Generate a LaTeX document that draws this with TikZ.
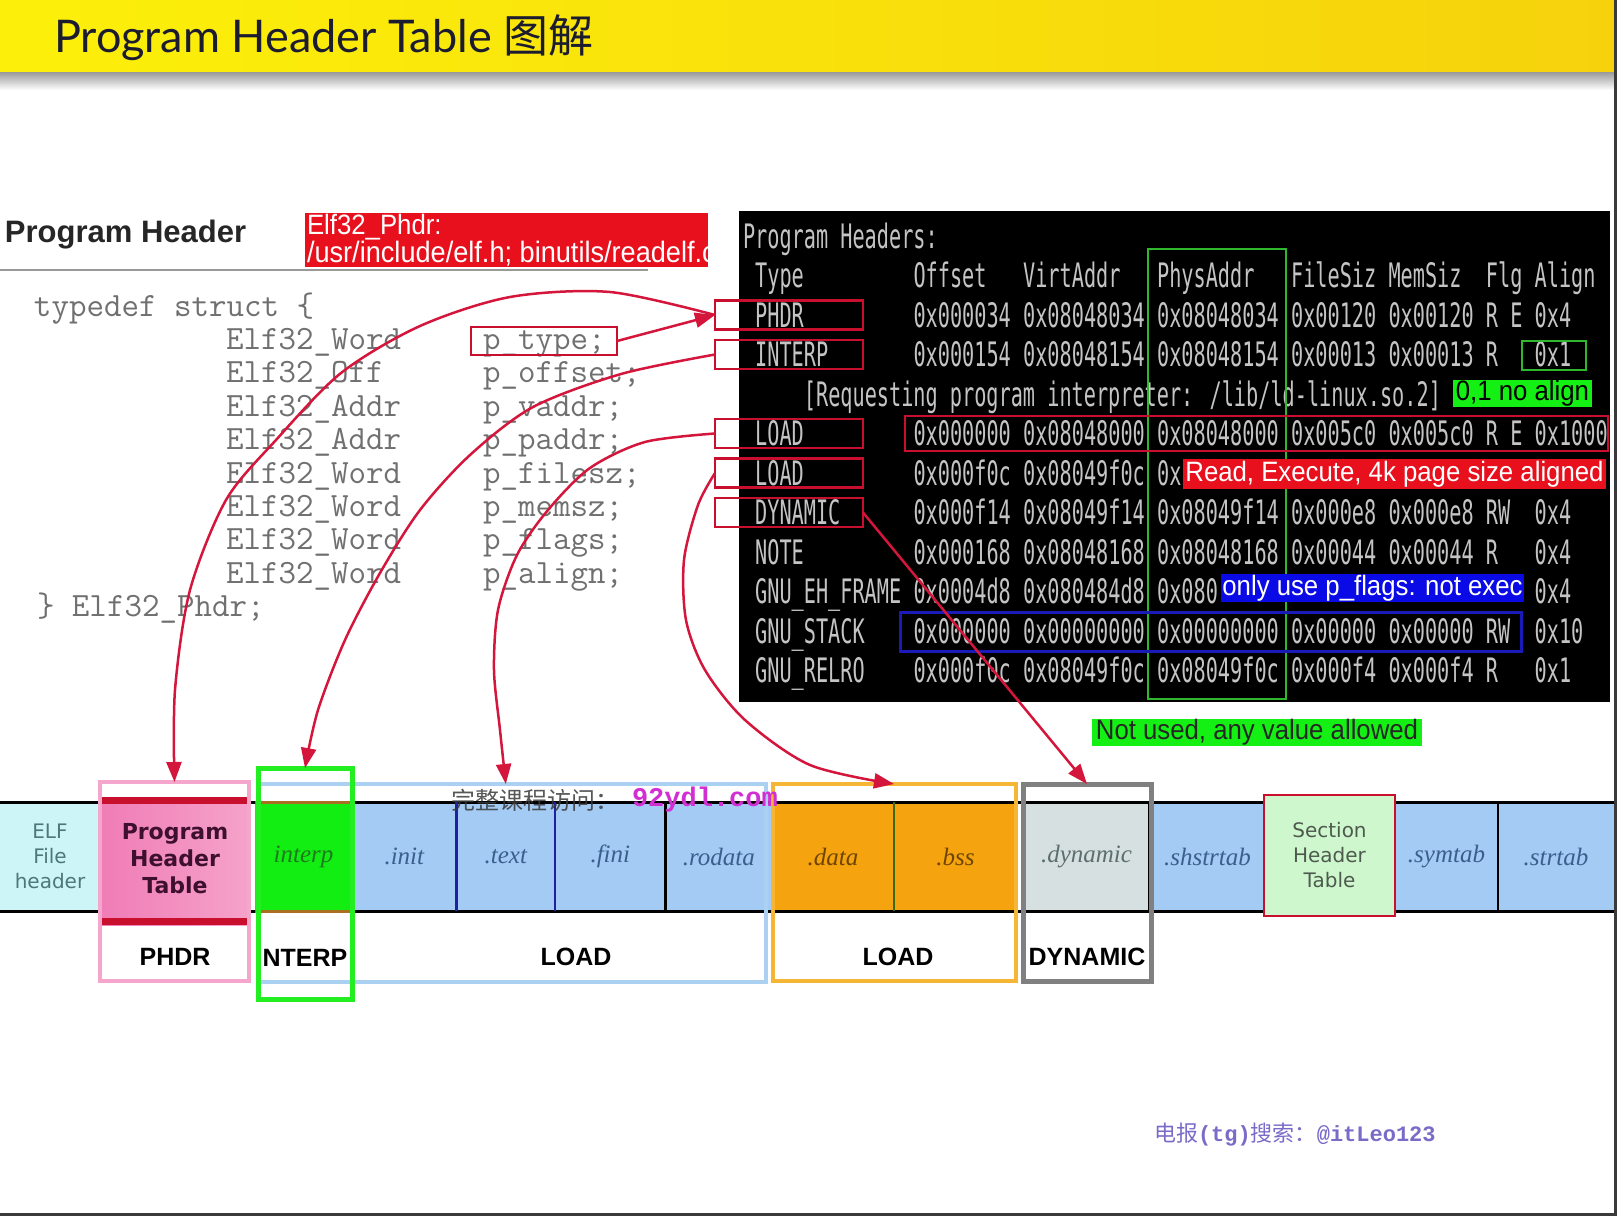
\documentclass[tikz,border=0pt]{standalone}
\usepackage{fontspec}
\setmainfont{Liberation Sans}
\newfontfamily\titlefont{Lato}
\newfontfamily\cjkfont{Noto Sans CJK SC}
\newfontfamily\wmmono{Liberation Mono}
\newfontfamily\termfont[FakeStretch=0.6]{DejaVu Sans Mono}
\newfontfamily\narrowfont[FakeStretch=0.92]{Liberation Sans}
\newfontfamily\cellsans{DejaVu Sans}
\newfontfamily\cellserif{Liberation Serif}
\usetikzlibrary{arrows.meta,calc}

\definecolor{barL}{HTML}{FCF00A}
\definecolor{barR}{HTML}{F6D20C}
\definecolor{titleink}{HTML}{1C1C30}
\definecolor{boxred}{HTML}{C8102E}
\definecolor{arrowred}{HTML}{D5163C}
\definecolor{labelred}{HTML}{E8101C}
\definecolor{labelblue}{HTML}{0A0AE6}
\definecolor{labelgreen}{HTML}{14F014}
\definecolor{stackblue}{HTML}{1A1AB8}
\definecolor{physgreen}{HTML}{2EB82E}
\definecolor{termink}{HTML}{C4C4C4}
\definecolor{codeink}{HTML}{707070}
\definecolor{elfcyan}{HTML}{CDF5F7}
\definecolor{pinkL}{HTML}{F07CB6}
\definecolor{pinkR}{HTML}{F5A3CA}
\definecolor{pinkline}{HTML}{F4A6CC}
\definecolor{phtink}{HTML}{3E0F2E}
\definecolor{interpgreen}{HTML}{12EE12}
\definecolor{interpink}{HTML}{1E7A1E}
\definecolor{interpedge}{HTML}{22EE22}
\definecolor{interpline}{HTML}{A87020}
\definecolor{secblue}{HTML}{A3CBF3}
\definecolor{secink}{HTML}{3A5F8E}
\definecolor{loadblue}{HTML}{AAD0F2}
\definecolor{dataorange}{HTML}{F5A30F}
\definecolor{dataink}{HTML}{6E4500}
\definecolor{loadorange}{HTML}{F5B535}
\definecolor{dyngray}{HTML}{D6E0E1}
\definecolor{dynink}{HTML}{5C6E70}
\definecolor{dynedge}{HTML}{808080}
\definecolor{shtgreen}{HTML}{CEF7CE}
\definecolor{shtink}{HTML}{4E5A4E}
\definecolor{elfink}{HTML}{4D7878}
\definecolor{divblue}{HTML}{2020A0}
\definecolor{divgreen}{HTML}{3A6A10}
\definecolor{wmgray}{HTML}{3A3A3A}
\definecolor{wmmagenta}{HTML}{D22FD2}
\definecolor{wmpurple}{HTML}{7B6BC8}
\definecolor{framegray}{HTML}{3A3A3A}

\begin{document}
\begin{tikzpicture}[x=1pt,y=-1pt,
  every node/.style={inner sep=0pt, outer sep=0pt},
  code/.style={anchor=base west, text=codeink, font=\ttfamily\fontsize{34}{34}\selectfont},
  term/.style={anchor=base west, text=termink, font=\termfont\fontsize{33.7}{33.7}\selectfont},
  typebox/.style={draw=boxred, line width=2.5pt, minimum width=148pt, minimum height=29pt},
  tag/.style={font=\narrowfont\fontsize{28}{28}\selectfont},
  cell/.style={anchor=north west, minimum height=109pt},
  secname/.style={font=\cellserif\itshape\fontsize{25}{25}\selectfont},
  seglabel/.style={font=\bfseries\fontsize{25}{25}\selectfont, text=black},
  link/.style={draw=arrowred, line width=2.5pt, -{Triangle[length=20pt,width=15pt]}},
]
\useasboundingbox (0,0) rectangle (1618,1216);
\fill[white] (0,0) rectangle (1618,1216);

% ---------- title bar ----------
\shade[left color=barL, right color=barR] (0,0) rectangle (1614,72);
\shade[top color=black!40, bottom color=white] (0,72) rectangle (1614,90);
\node[anchor=base west, text=titleink, font=\titlefont\fontsize{45}{45}\selectfont] (title) at (54,52)
  {Program Header Table {\cjkfont 图解}};

% ---------- struct definition ----------
\node[anchor=base west, font=\bfseries\fontsize{31}{31}\selectfont, text=black!85] (phhead) at (5,242) {Program Header};
\draw[black!40, line width=2pt] (0,270) -- (648,270);
\node[fill=labelred, minimum width=403pt, minimum height=54pt, anchor=north west] (srcbox) at (305,213) {};
\begin{scope}
  \clip (srcbox.south west) rectangle (srcbox.north east);
  \node[anchor=base west, text=white, font=\narrowfont\fontsize{28}{28}\selectfont] (src1) at (307,234) {Elf32\_Phdr:};
  \node[anchor=base west, text=white, font=\narrowfont\fontsize{29.5}{29.5}\selectfont] (src2) at (307,262) {/usr/include/elf.h; binutils/readelf.c};
\end{scope}

\node[code] (c0) at (34,316) {typedef struct \{};
\foreach \j/\t/\n in {1/Elf32\_Word/p\_type;, 2/Elf32\_Off/p\_offset;, 3/Elf32\_Addr/p\_vaddr;,
    4/Elf32\_Addr/p\_paddr;, 5/Elf32\_Word/p\_filesz;, 6/Elf32\_Word/p\_memsz;,
    7/Elf32\_Word/p\_flags;, 8/Elf32\_Word/p\_align;}{
  \node[code] (ct\j) at (226,{316+33.4*\j}) {\t};
  \node[code] (cn\j) at (483,{316+33.4*\j}) {\n};
}
\node[code] (c9) at (37,{316+33.4*9}) {\} Elf32\_Phdr;};
\node[draw=boxred, line width=2.5pt, minimum width=146pt, minimum height=28pt] (ptbox) at (544,341) {};

% ---------- readelf output ----------
\fill[black] (739,211) rectangle (1610,702);
\node[term] (th) at (743,248) {Program Headers:};
\foreach \c/\s [count=\i] in {1/Type,14/Offset,23/VirtAddr,34/PhysAddr,45/FileSiz,53/MemSiz,61/Flg,65/Align}
  \node[term] (hd\i) at ({743+12.18*\c},287.5) {\s};
\foreach \k/\lab/\off/\va/\pa/\fsz/\msz/\flg/\al in {
  2/PHDR/0x000034/0x08048034/0x08048034/0x00120/0x00120/R E/0x4,
  3/INTERP/0x000154/0x08048154/0x08048154/0x00013/0x00013/R/0x1,
  5/LOAD/0x000000/0x08048000/0x08048000/0x005c0/0x005c0/R E/0x1000,
  7/DYNAMIC/0x000f14/0x08049f14/0x08049f14/0x000e8/0x000e8/RW/0x4,
  8/NOTE/0x000168/0x08048168/0x08048168/0x00044/0x00044/R/0x4,
  10/GNU\_STACK/0x000000/0x00000000/0x00000000/0x00000/0x00000/RW/0x10,
  11/GNU\_RELRO/0x000f0c/0x08049f0c/0x08049f0c/0x000f4/0x000f4/R/0x1}{
  \node[term] (ty\k) at ({743+12.18},{248+39.5*\k}) {\lab};
  \node[term] (of\k) at ({743+12.18*14},{248+39.5*\k}) {\off};
  \node[term] (va\k) at ({743+12.18*23},{248+39.5*\k}) {\va};
  \node[term] (pa\k) at ({743+12.18*34},{248+39.5*\k}) {\pa};
  \node[term] (fs\k) at ({743+12.18*45},{248+39.5*\k}) {\fsz};
  \node[term] (ms\k) at ({743+12.18*53},{248+39.5*\k}) {\msz};
  \node[term] (fl\k) at ({743+12.18*61},{248+39.5*\k}) {\flg};
  \node[term] (al\k) at ({743+12.18*65},{248+39.5*\k}) {\al};
}
\node[term] (req) at ({743+12.18*5},{248+39.5*4}) {[Requesting program interpreter: /lib/ld-linux.so.2]};
% rows whose right part lies under a caption
\node[term] (ty6) at ({743+12.18},{248+39.5*6}) {LOAD};
\node[term] (of6) at ({743+12.18*14},{248+39.5*6}) {0x000f0c};
\node[term] (va6) at ({743+12.18*23},{248+39.5*6}) {0x08049f0c};
\node[term] (pa6) at ({743+12.18*34},{248+39.5*6}) {0x};
\node[term] (ty9) at ({743+12.18},{248+39.5*9}) {GNU\_EH\_FRAME};
\node[term] (of9) at ({743+12.18*14},{248+39.5*9}) {0x0004d8};
\node[term] (va9) at ({743+12.18*23},{248+39.5*9}) {0x080484d8};
\node[term] (pa9) at ({743+12.18*34},{248+39.5*9}) {0x080};
\node[term] (al9) at ({743+12.18*65},{248+39.5*9}) {0x4};

% column and row highlights
\node[draw=physgreen, line width=2.5pt, minimum width=138pt, minimum height=450pt, anchor=north west] (physcol) at (1148,249) {};
\node[draw=physgreen, line width=2.5pt, minimum width=64pt, minimum height=29pt] (alignbox) at (1554,355.5) {};
\node[tag, fill=labelgreen, text=black, minimum width=139pt, minimum height=27pt] (noalign) at (1522.5,393.5) {0,1 no align};
\node[draw=boxred, line width=2.5pt, minimum width=703pt, minimum height=35pt] (loadvals) at (1256.5,433.5) {};
\node[tag, fill=labelred, text=white, minimum width=423pt, minimum height=30pt] (rxtag) at (1394.5,474) {Read, Execute, 4k page size aligned};
\node[tag, fill=labelblue, text=white, minimum width=303pt, minimum height=28pt] (nxtag) at (1372.5,588) {only use p\_flags: not exec};
\node[draw=stackblue, line width=3pt, minimum width=621pt, minimum height=39pt] (stackvals) at (1210.5,631.5) {};
\node[tag, fill=labelgreen, text=black!85, minimum width=330pt, minimum height=27pt] (unused) at (1257,732.5) {Not used, any value allowed};

% type boxes
\node[typebox] (bxphdr) at (789,315) {};
\node[typebox] (bxinterp) at (789,354.5) {};
\node[typebox] (bxload) at (789,433.5) {};
\node[typebox] (bxloadb) at (789,473) {};
\node[typebox] (bxdyn) at (789,512.5) {};

% ---------- file layout band ----------
\node[cell, fill=elfcyan, minimum width=100pt, align=center, text=elfink, font=\cellsans\fontsize{20}{25}\selectfont] (elf) at (0,802) {ELF\\File\\header};
\node[cell, fill=interpgreen, minimum width=97pt, secname, text=interpink] (interp) at (255,802) {interp};
\node[cell, fill=secblue, minimum width=104.6pt, secname, text=secink] (init) at (352,802) {.init};
\node[cell, fill=secblue, minimum width=98.4pt, secname, text=secink] (textsec) at (456.6,802) {.text};
\node[cell, fill=secblue, minimum width=110.6pt, secname, text=secink] (fini) at (555,802) {.fini};
\node[cell, fill=secblue, minimum width=106.4pt, secname, text=secink] (rodata) at (665.6,802) {.rodata};
\node[cell, fill=dataorange, minimum width=122pt, secname, text=dataink] (datasec) at (772,802) {.data};
\node[cell, fill=dataorange, minimum width=123pt, secname, text=dataink] (bss) at (894,802) {.bss};
\node[cell, fill=dyngray, minimum width=129pt, secname, text=dynink] (dynsec) at (1022,802) {.dynamic};
\node[cell, fill=secblue, minimum width=113pt, secname, text=secink] (shstrtab) at (1151,802) {.shstrtab};
\node[cell, fill=secblue, minimum width=103pt, secname, text=secink] (symtab) at (1395,802) {.symtab};
\node[cell, fill=secblue, minimum width=116pt, secname, text=secink] (strtab) at (1498,802) {.strtab};

\draw[black, line width=3pt] (0,802) -- (1614,802) (0,911) -- (1614,911);
\draw[divblue, line width=2.5pt] (textsec.north west) -- (textsec.south west) (fini.north west) -- (fini.south west);
\draw[black, line width=2.5pt] (rodata.north west) -- (rodata.south west) (strtab.north west) -- (strtab.south west);
\draw[divgreen, line width=1.5pt] (bss.north west) -- (bss.south west);
\draw[black, line width=2.5pt] (1025,802) rectangle (1149,911);
\draw[interpline, line width=3pt] (interp.north west) -- (interp.north east) (interp.south west) -- (interp.south east);

% program header table cell
\shade[left color=pinkL, right color=pinkR] (100,797) rectangle (250,925);
\fill[boxred] (100,797) rectangle (250,804);
\fill[boxred] (100,918) rectangle (250,925);
\node[align=center, text=phtink, font=\cellsans\bfseries\fontsize{22}{27}\selectfont] (pht) at (175,859) {Program\\Header\\Table};

% section header table cell
\node[anchor=north west, draw=boxred, line width=2.5pt, fill=shtgreen, minimum width=131pt, minimum height=121pt,
  align=center, text=shtink, font=\cellsans\fontsize{20}{25}\selectfont] (sht) at (1264,795) {Section\\Header\\Table};

% segment outlines
\node[draw=pinkline, line width=4pt, minimum width=149pt, minimum height=199pt] (phdrseg) at (174.5,881.5) {};
\node[draw=loadblue, line width=3.5pt, minimum width=508pt, minimum height=198pt] (loadaseg) at (512,883) {};
\node[draw=interpedge, line width=5pt, minimum width=94pt, minimum height=231pt] (interpseg) at (305,883.5) {};
\node[draw=loadorange, line width=4.5pt, minimum width=243pt, minimum height=197pt] (loadbseg) at (894.5,882.5) {};
\node[draw=dynedge, line width=5pt, minimum width=128pt, minimum height=197pt] (dynseg) at (1087,882.5) {};

\node[seglabel] (lbphdr) at (175,957) {PHDR};
\node[seglabel] (lbinterp) at (305,958) {NTERP};
\node[seglabel] (lbloada) at (576,957) {LOAD};
\node[seglabel] (lbloadb) at (898,957) {LOAD};
\node[seglabel] (lbdyn) at (1087,957) {DYNAMIC};

% ---------- connectors ----------
\draw[link] (ptbox.east) -- (bxphdr.west);
\draw[link] plot[smooth] coordinates {(bxphdr.west) (610,292) (510,297) (420,326) (341,373) (276,440) (226,500) (190,590) (175,690) (phdrseg.north)};
\draw[link] plot[smooth] coordinates {(bxinterp.west) (621,374) (533,407) (470,455) (420,510) (380,573) (345,640) (318,710) (interpseg.north)};
\draw[link] plot[smooth] coordinates {(bxload.west) (645,442) (590,468) (548,510) (517,555) (498,610) (494,670) (500,730) (textsec.north |- loadaseg.north)};
\draw[link] plot[smooth] coordinates {(bxloadb.west) (698,505) (684,560) (686,620) (705,670) (745,720) (810,765) (bss.north west |- loadbseg.north)};
\draw[link] (bxdyn.east) -- (dynseg.north);

% ---------- overlay captions ----------
\node[anchor=west, text=wmgray, opacity=0.85, font=\cjkfont\fontsize{24}{24}\selectfont] (wm1) at (451,800) {完整课程访问：};
\node[anchor=west, text=wmmagenta, font=\wmmono\bfseries\fontsize{27}{27}\selectfont] (wm2) at (632,800) {92ydl.com};
\node[anchor=west, text=wmpurple, font=\fontsize{22}{22}\selectfont] (wm3) at (1154,1135)
  {{\cjkfont 电报}{\wmmono\bfseries (tg)}{\cjkfont 搜索：}{\wmmono\bfseries @itLeo123}};

% ---------- frame ----------
\draw[framegray, line width=3pt] (1615.5,0) -- (1615.5,1214.5) -- (0,1214.5);
\end{tikzpicture}
\end{document}
